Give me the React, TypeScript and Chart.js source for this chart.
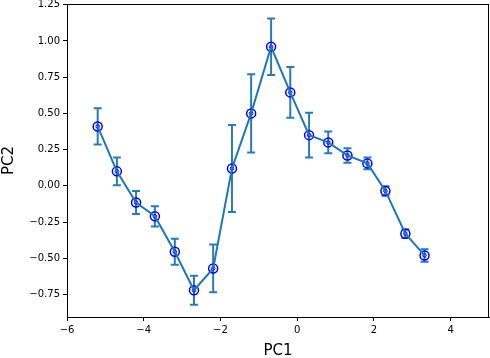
import React, { useEffect, useRef } from "react";
import { Chart, registerables } from "chart.js";

Chart.register(...registerables);

const pc1 = [-5.2, -4.7, -4.2, -3.71, -3.19, -2.69, -2.19, -1.7, -1.2, -0.68, -0.18, 0.31, 0.81, 1.31, 1.83, 2.3, 2.82, 3.32];
const pc2 = [0.41, 0.1, -0.115, -0.21, -0.455, -0.72, -0.57, 0.12, 0.5, 0.96, 0.645, 0.35, 0.3, 0.21, 0.155, -0.035, -0.33, -0.48];
const pc2Err = [0.125, 0.095, 0.08, 0.07, 0.09, 0.1, 0.165, 0.3, 0.27, 0.195, 0.175, 0.155, 0.075, 0.05, 0.04, 0.033, 0.03, 0.043];
const xTicks = [-6, -4, -2, 0, 2, 4];
const yTicks = [-0.75, -0.5, -0.25, 0, 0.25, 0.5, 0.75, 1.0, 1.25];

const LINE = "#1f77b4";
const FONT = "'DejaVu Sans', sans-serif";

const fmt = (v: number, d: number) => {
  const s = Math.abs(v).toFixed(d);
  return v < -1e-9 ? "\u2212" + s : s;
};

const errorBarPlugin = {
  id: "errorBars",
  beforeDatasetsDraw(chart: any) {
    const { ctx } = chart;
    const xs = chart.scales.x;
    const ys = chart.scales.y;
    ctx.save();
    ctx.strokeStyle = "#2a7ab8";
    ctx.lineWidth = 2;
    pc1.forEach((xv, i) => {
      const px = xs.getPixelForValue(xv);
      const top = ys.getPixelForValue(pc2[i] + pc2Err[i]);
      const bot = ys.getPixelForValue(pc2[i] - pc2Err[i]);
      ctx.beginPath();
      ctx.moveTo(px, top);
      ctx.lineTo(px, bot);
      ctx.moveTo(px - 4, top);
      ctx.lineTo(px + 4, top);
      ctx.moveTo(px - 4, bot);
      ctx.lineTo(px + 4, bot);
      ctx.stroke();
    });
    ctx.restore();
  },
  afterDraw(chart: any) {
    const { ctx, chartArea: a } = chart;
    ctx.save();
    ctx.strokeStyle = "#000";
    ctx.lineWidth = 1;
    ctx.strokeRect(Math.round(a.left) + 0.5, Math.round(a.top) + 0.5, Math.round(a.right - a.left) - 1, Math.round(a.bottom - a.top));
    ctx.restore();
  },
};

export default function App() {
  const ref = useRef<HTMLCanvasElement | null>(null);
  useEffect(() => {
    if (!ref.current) return;
    const pts = pc1.map((x, i) => ({ x, y: pc2[i] }));
    const chart = new Chart(ref.current, {
      type: "scatter",
      data: {
        datasets: [
          {
            data: pts,
            showLine: true,
            borderColor: LINE,
            borderWidth: 2,
            pointRadius: 0,
            pointHoverRadius: 0,
          },
          {
            data: pts,
            showLine: false,
            pointRadius: 4.5,
            pointBorderColor: "#0000ff",
            pointBackgroundColor: "rgba(0,0,0,0)",
            pointBorderWidth: 1.5,
          },
          {
            data: pts,
            showLine: false,
            pointRadius: 1.8,
            pointBorderColor: "#0000ff",
            pointBackgroundColor: "rgba(0,0,0,0)",
            pointBorderWidth: 1,
          },
        ] as any,
      },
      options: {
        animation: false,
        responsive: false,
        maintainAspectRatio: false,
        layout: { autoPadding: false, padding: { top: 4, right: 1, left: 0, bottom: 0 } },
        plugins: { legend: { display: false }, tooltip: { enabled: false } },
        scales: {
          x: {
            type: "linear",
            min: -6,
            max: 5,
            afterBuildTicks: (s: any) => {
              s.ticks = xTicks.map((v) => ({ value: v }));
            },
            afterFit: (s: any) => {
              s.height = 41;
              s.paddingLeft = 0;
              s.paddingRight = 0;
            },
            grid: { drawOnChartArea: false, drawTicks: true, tickLength: 4, color: "#000", lineWidth: 1 },
            border: { display: true, color: "#000" },
            ticks: {
              color: "#000",
              font: { family: FONT, size: 10 },
              padding: 3,
              maxRotation: 0,
              callback: (v: any) => fmt(Number(v), 0),
            },
            title: {
              display: true,
              text: "PC1",
              color: "#000",
              font: { family: FONT, size: 15 },
              padding: { top: 2, bottom: -2 },
            },
          },
          y: {
            type: "linear",
            min: -0.905,
            max: 1.255,
            afterBuildTicks: (s: any) => {
              s.ticks = yTicks.map((v) => ({ value: v }));
            },
            afterFit: (s: any) => {
              s.width = 67;
              s.paddingTop = 0;
              s.paddingBottom = 0;
            },
            grid: { drawOnChartArea: false, drawTicks: true, tickLength: 4, color: "#000", lineWidth: 1 },
            border: { display: true, color: "#000" },
            ticks: {
              color: "#000",
              font: { family: FONT, size: 10 },
              padding: 3,
              callback: (v: any) => fmt(Number(v), 2),
            },
            title: {
              display: true,
              text: "PC2",
              color: "#000",
              font: { family: FONT, size: 15 },
              padding: { top: 0, bottom: 0 },
            },
          },
        },
      } as any,
      plugins: [errorBarPlugin],
    });
    return () => chart.destroy();
  }, []);
  return (
    <div style={{ position: "fixed", left: 0, top: 0, width: 490, height: 358, background: "#fff" }}>
      <canvas ref={ref} width={490} height={358} style={{ width: 490, height: 358, display: "block" }} />
    </div>
  );
}
